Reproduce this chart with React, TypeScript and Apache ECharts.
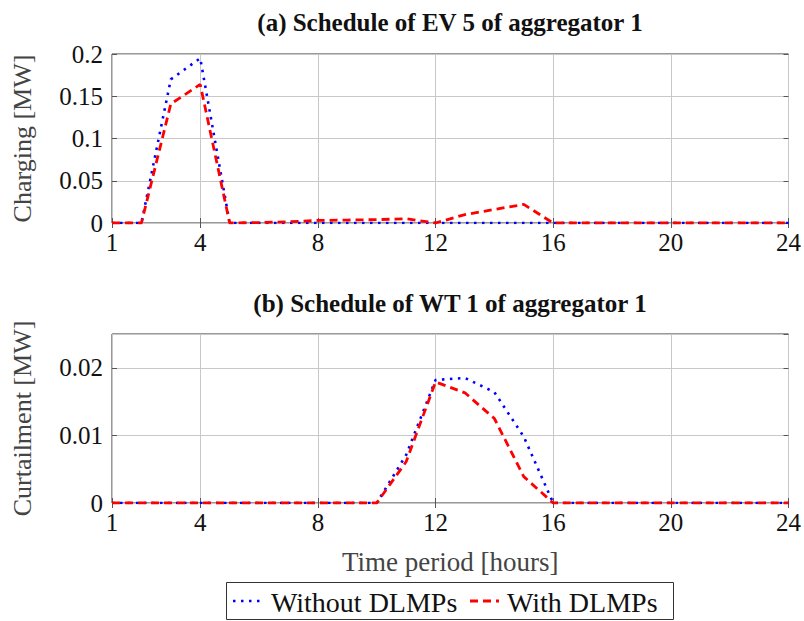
import React, { useEffect, useRef } from "react";
import * as echarts from "echarts";

const hours = ["1","2","3","4","5","6","7","8","9","10","11","12","13","14","15","16","17","18","19","20","21","22","23","24"];
const shownTicks = ["1","4","8","12","16","20","24"];

const evWithout = [0,0,0.170,0.195,0,0,0,0,0,0,0,0,0,0,0,0,0,0,0,0,0,0,0,0];
const evWith = [0,0,0.141,0.164,0,0.0005,0.0015,0.003,0.0035,0.004,0.005,0,0.010,0.016,0.022,0,0,0,0,0,0,0,0,0];

const wtWithout = [0,0,0,0,0,0,0,0,0,0,0.0071,0.0182,0.0185,0.0164,0.0098,0,0,0,0,0,0,0,0,0];
const wtWith = [0,0,0,0,0,0,0,0,0,0,0.0061,0.0179,0.0163,0.0125,0.0039,0,0,0,0,0,0,0,0,0];

const evTicks = [0, 0.05, 0.1, 0.15, 0.2];
const wtTicks = [0, 0.01, 0.02];
const seriesNames = ["Without DLMPs", "With DLMPs"];

const FONT = "Liberation Serif";
const BLUE = "#0000ff";
const RED = "#ff0000";
const BLUE_DASH = [2.5, 5.5];
const RED_DASH = [8, 5];

export default function App() {
  const ref = useRef<HTMLDivElement>(null);
  useEffect(() => {
    if (!ref.current) return;
    const chart = echarts.init(ref.current, undefined, { renderer: "svg" });
    const showIdx = (i: number) => shownTicks.includes(hours[i]);
    const xAxisBase = (gridIndex: number, withName: boolean) => ({
      type: "category",
      gridIndex,
      data: hours,
      boundaryGap: false,
      axisLine: { show: false },
      axisTick: { show: true, inside: true, length: 5, interval: (i: number) => showIdx(i), lineStyle: { color: "#555" } },
      axisLabel: { interval: (i: number) => showIdx(i), fontFamily: FONT, fontSize: 25, color: "#111", margin: 7 },
      splitLine: { show: true, interval: (i: number) => showIdx(i), lineStyle: { color: "#c8c8c8", width: 1 } },
      name: withName ? "Time period [hours]" : "",
      nameLocation: "middle",
      nameGap: 45,
      nameTextStyle: { fontFamily: FONT, fontSize: 27, color: "#444" },
    });
    const xAxisTop = (gridIndex: number) => ({
      type: "category",
      gridIndex,
      data: hours,
      boundaryGap: false,
      position: "top",
      axisLine: { show: false },
      axisTick: { show: true, inside: true, length: 5, interval: (i: number) => showIdx(i), lineStyle: { color: "#555" } },
      axisLabel: { show: false },
      splitLine: { show: false },
    });
    const yAxisBase = (gridIndex: number, max: number, interval: number, name: string, ticks: number[]) => ({
      type: "value",
      gridIndex,
      min: 0,
      max,
      interval,
      axisLine: { show: false },
      axisTick: { show: true, inside: true, length: 5, lineStyle: { color: "#555" } },
      axisLabel: {
        fontFamily: FONT,
        fontSize: 25,
        color: "#111",
        margin: 9,
        showMaxLabel: ticks.includes(max),
        formatter: (v: number) => String(parseFloat(v.toFixed(4))),
      },
      splitLine: { show: true, lineStyle: { color: "#c8c8c8", width: 1 } },
      name,
      nameLocation: "middle",
      nameGap: 77,
      nameTextStyle: { fontFamily: FONT, fontSize: 26, color: "#444" },
    });
    const yAxisRight = (gridIndex: number, max: number, interval: number) => ({
      type: "value",
      gridIndex,
      min: 0,
      max,
      interval,
      position: "right",
      axisLine: { show: false },
      axisTick: { show: true, inside: true, length: 5, lineStyle: { color: "#555" } },
      axisLabel: { show: false },
      splitLine: { show: false },
    });
    const blueStyle = { color: BLUE, width: 2.6, type: BLUE_DASH, cap: "butt" };
    const redStyle = { color: RED, width: 2.8, type: RED_DASH, cap: "butt" };
    const legendY = 601;
    const option = {
      animation: false,
      backgroundColor: "#ffffff",
      title: [
        {
          text: "(a) Schedule of EV 5 of aggregator 1",
          left: 445,
          top: 5,
          textAlign: "center",
          textStyle: { fontFamily: FONT, fontSize: 25, fontWeight: "bold", color: "#111" },
        },
        {
          text: "(b) Schedule of WT 1 of aggregator 1",
          left: 445,
          top: 286,
          textAlign: "center",
          textStyle: { fontFamily: FONT, fontSize: 25, fontWeight: "bold", color: "#111" },
        },
      ],
      graphic: [
        { type: "rect", shape: { x: 226.5, y: 582.5, width: 447, height: 37 }, style: { fill: "#fff", stroke: "#333", lineWidth: 1 }, z: 10 },
        { type: "line", shape: { x1: 233, y1: legendY, x2: 263, y2: legendY }, style: { stroke: BLUE, lineWidth: 2.6, lineDash: BLUE_DASH }, z: 11 },
        { type: "text", x: 271, y: legendY + 1, style: { text: seriesNames[0], fontFamily: FONT, fontSize: 28, fill: "#111", verticalAlign: "middle", align: "left" }, z: 11 },
        { type: "line", shape: { x1: 470, y1: legendY, x2: 499, y2: legendY }, style: { stroke: RED, lineWidth: 2.8, lineDash: RED_DASH }, z: 11 },
        { type: "text", x: 507, y: legendY + 1, style: { text: seriesNames[1], fontFamily: FONT, fontSize: 28, fill: "#111", verticalAlign: "middle", align: "left" }, z: 11 },
      ],
      grid: [
        { left: 112, top: 54, width: 678, height: 169, show: true, borderColor: "#333", borderWidth: 1, backgroundColor: "transparent", containLabel: false },
        { left: 112, top: 334, width: 678, height: 169, show: true, borderColor: "#333", borderWidth: 1, backgroundColor: "transparent", containLabel: false },
      ],
      xAxis: [xAxisBase(0, false), xAxisBase(1, true), xAxisTop(0), xAxisTop(1)],
      yAxis: [
        yAxisBase(0, 0.2, 0.05, "Charging [MW]", evTicks),
        yAxisBase(1, 0.025, 0.01, "Curtailment [MW]", wtTicks),
        yAxisRight(0, 0.2, 0.05),
        yAxisRight(1, 0.025, 0.01),
      ],
      series: [
        { name: seriesNames[0], type: "line", xAxisIndex: 0, yAxisIndex: 0, data: evWithout, symbol: "none", lineStyle: blueStyle, itemStyle: { color: BLUE }, z: 3 },
        { name: seriesNames[1], type: "line", xAxisIndex: 0, yAxisIndex: 0, data: evWith, symbol: "none", lineStyle: redStyle, itemStyle: { color: RED }, z: 4 },
        { name: seriesNames[0], type: "line", xAxisIndex: 1, yAxisIndex: 1, data: wtWithout, symbol: "none", lineStyle: blueStyle, itemStyle: { color: BLUE }, z: 3 },
        { name: seriesNames[1], type: "line", xAxisIndex: 1, yAxisIndex: 1, data: wtWith, symbol: "none", lineStyle: redStyle, itemStyle: { color: RED }, z: 4 },
      ],
    };
    chart.setOption(option as any);
    return () => chart.dispose();
  }, []);
  return <div ref={ref} style={{ position: "absolute", left: 0, top: 0, width: 804, height: 621 }} />;
}
